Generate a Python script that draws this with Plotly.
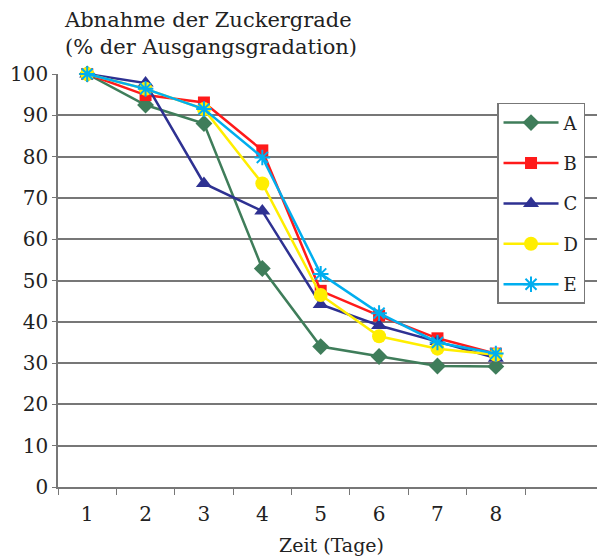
import plotly.graph_objects as go

days = [1, 2, 3, 4, 5, 6, 7, 8]
tick_labels = ["1", "2", "3", "4", "5", "6", "7", "8"]
series_names = ["A", "B", "C", "D", "E"]
A = [100, 92.5, 88.0, 52.9, 34.0, 31.6, 29.3, 29.2]
B = [100, 94.9, 93.1, 81.5, 47.5, 41.5, 36.0, 32.3]
C = [100, 97.8, 73.5, 66.8, 44.2, 39.1, 35.2, 31.2]
D = [100, 96.4, 91.5, 73.5, 46.5, 36.5, 33.5, 32.0]
E = [100, 96.4, 91.5, 79.8, 51.6, 42.1, 35.0, 32.3]
values = [A, B, C, D, E]

colors = ["#3f7d5a", "#ff1a1a", "#2e3192", "#ffee00", "#00aeef"]
symbols = ["diamond", "square", "triangle-up", "circle", "asterisk-open"]
sizes = [13, 12, 14, 14, 13]

FONT = "DejaVu Serif"

fig = go.Figure()
for name, vals, col, sym, sz in zip(series_names, values, colors, symbols, sizes):
    marker = dict(symbol=sym, size=sz, color=col)
    if sym == "asterisk-open":
        marker["line"] = dict(color=col, width=2)
    fig.add_trace(go.Scatter(
        x=days, y=vals, name=name, mode="lines+markers",
        line=dict(color=col, width=2.5), marker=marker,
        legendgroup=name, cliponaxis=False,
    ))

fig.update_layout(
    width=597, height=549,
    margin=dict(l=50, r=0, t=66, b=70, autoexpand=False),
    paper_bgcolor="white", plot_bgcolor="white",
    font=dict(family=FONT, size=20, color="#222"),
    xaxis=dict(
        range=[0.5, 9.87], tickmode="array", tickvals=days, ticktext=tick_labels,
        showgrid=False, showline=True, linecolor="#777", linewidth=1.5,
        ticks="", zeroline=False, ticklabelstandoff=8, automargin=False,
        title=dict(text="Zeit (Tage)", font=dict(family=FONT, size=19), standoff=14),
    ),
    yaxis=dict(
        range=[0, 100], dtick=10, showgrid=True, gridcolor="#777777", gridwidth=1.5,
        showline=True, linecolor="#777", linewidth=1.5, automargin=False,
        ticks="outside", ticklen=4, tickcolor="#777", zeroline=False,
    ),
    showlegend=True,
    legend=dict(
        x=0.8026, y=0.93, xanchor="left", yanchor="top",
        bgcolor="white", bordercolor="#777", borderwidth=1.5,
        font=dict(family=FONT, size=18), tracegroupgap=14,
        itemwidth=55,
    ),
    annotations=[dict(
        text="Abnahme der Zuckergrade<br>(% der Ausgangsgradation)",
        xref="paper", yref="paper", x=0.008, y=1.165, xanchor="left", yanchor="top",
        showarrow=False, align="left", font=dict(family=FONT, size=21, color="#222"),
    )],
)

fig.update_xaxes(minor=dict(tickvals=[d + 0.5 for d in [0] + days], ticks="outside",
                            ticklen=6, tickcolor="#777", showgrid=False))

fig.write_html("out.html")
